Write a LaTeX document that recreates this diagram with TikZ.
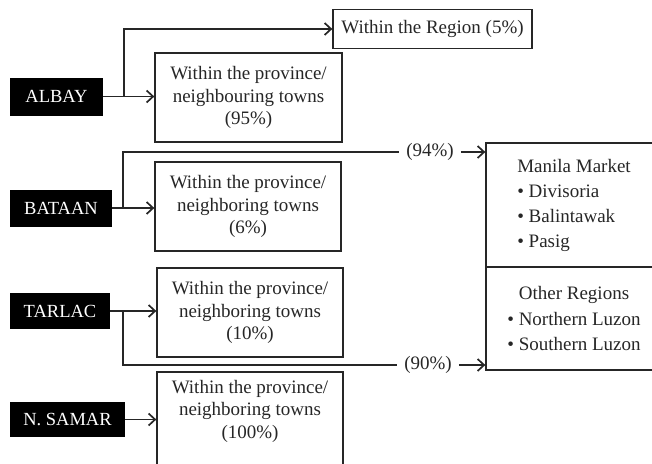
\documentclass[tikz,border=0pt]{standalone}
\usepackage{fontspec}
\setmainfont{Liberation Serif}
\usetikzlibrary{arrows.meta}
\begin{document}
\begin{tikzpicture}[x=1pt,y=-1pt,
  src/.style={fill=black,text=white,inner sep=0pt,font=\fontsize{18.5}{22}\selectfont},
  dest/.style={draw=black!85,line width=1.3pt,inner sep=0pt,align=center,text=black!85,font=\fontsize{19}{22.5}\selectfont},
  plain/.style={inner sep=0pt,align=center,text=black!85,font=\fontsize{19}{22.5}\selectfont},
  conn/.style={draw=black!85,line width=1.5pt},
  arr/.style={conn,-{Straight Barb[length=6.5pt,width=12pt,line width=1.7pt]}},
  pct/.style={inner xsep=7pt,inner ysep=0pt,text=black!85,font=\fontsize{19}{22}\selectfont}]
\useasboundingbox (0,0) rectangle (652,463);

% sources
\node[src,minimum width=93pt,minimum height=38pt] (albay) at (56.5,96.5) {ALBAY};
\node[src,minimum width=102pt,minimum height=37pt] (bataan) at (61,208) {BATAAN};
\node[src,minimum width=100pt,minimum height=36pt] (tarlac) at (60,311) {TARLAC};
\node[src,minimum width=115pt,minimum height=35pt] (nsamar) at (67.5,419.5) {N. SAMAR};

% destinations
\node[dest,minimum width=199pt,minimum height=39pt] (region) at (432.5,29) {Within the Region (5\%)};
\node[dest,minimum width=187pt,minimum height=89pt] (prov1) at (248.5,97.5) {Within the province/\\neighbouring towns\\(95\%)};
\node[dest,minimum width=186pt,minimum height=89pt] (prov2) at (248,206.5) {Within the province/\\neighboring towns\\(6\%)};
\node[dest,minimum width=186pt,minimum height=89pt] (prov3) at (250,312.5) {Within the province/\\neighboring towns\\(10\%)};
\node[dest,minimum width=186pt,minimum height=100pt] (prov4) at (250,422) {};
\node[plain] (prov4t) at (250,411) {Within the province/\\neighboring towns\\(100\%)};

\node[dest,align=left,minimum width=176pt,minimum height=124pt,font=\fontsize{19}{25}\selectfont] (manila) at (574,205) {Manila Market\\ \textbullet\ Divisoria\\ \textbullet\ Balintawak\\ \textbullet\ Pasig};
\node[dest,minimum width=176pt,minimum height=103pt,font=\fontsize{19}{25.5}\selectfont] (other) at (574,318.5) {Other Regions\\ \textbullet\ Northern Luzon\\ \textbullet\ Southern Luzon};

% percentage labels
\node[pct] (p94) at (430,152) {(94\%)};
\node[pct] (p90) at (428,365) {(90\%)};

% branch coordinates
\coordinate (ab) at (124,0);
\coordinate (bb) at (123,0);
\coordinate (tb) at (123,0);

% connectors
\draw[arr] (albay.east) -- (albay.east -| prov1.west);
\draw[arr] (albay.east -| ab) |- (region.west);
\draw[arr] (bataan.east) -- (bataan.east -| prov2.west);
\draw[conn] (bataan.east -| bb) |- (p94.west);
\draw[arr] (p94.east) -- (manila.west |- p94.east);
\draw[arr] (tarlac.east) -- (tarlac.east -| prov3.west);
\draw[conn] (tarlac.east -| tb) |- (p90.west);
\draw[arr] (p90.east) -- (other.west |- p90.east);
\draw[arr] (nsamar.east) -- (nsamar.east -| prov4.west);
\end{tikzpicture}
\end{document}
